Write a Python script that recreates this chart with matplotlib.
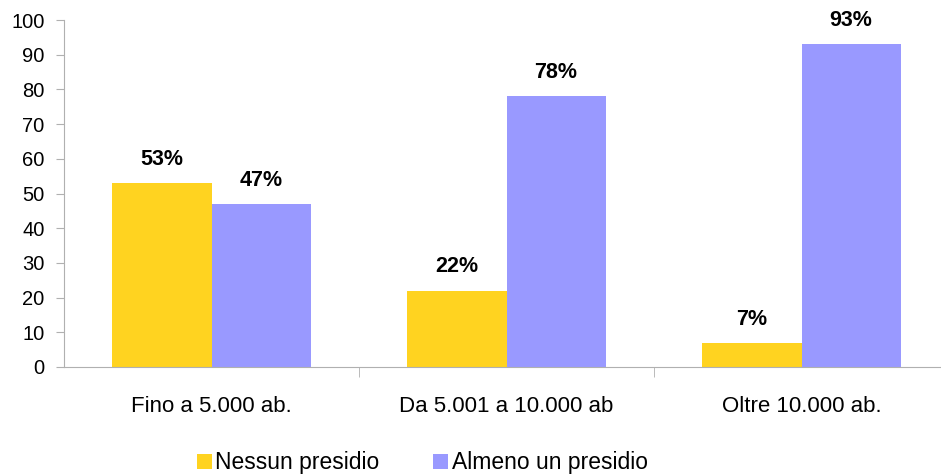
import matplotlib.pyplot as plt
import numpy as np

plt.rcParams['font.family'] = ['Liberation Sans', 'DejaVu Sans']

categories = ['Fino a 5.000 ab.', 'Da 5.001 a 10.000 ab', 'Oltre 10.000 ab.']
nessun = [53, 22, 7]
almeno = [47, 78, 93]
series_names = ['Nessun presidio', 'Almeno un presidio']
colors = ['#FFD320', '#9999FF']

fig = plt.figure(figsize=(9.41, 4.75), dpi=100)
ax = fig.add_axes([64 / 941, (475 - 367) / 475, (949 - 64) / 941, (367 - 20) / 475])

x = np.arange(len(categories))
w = 0.336
b1 = ax.bar(x - w / 2, nessun, w, color=colors[0], label=series_names[0])
b2 = ax.bar(x + w / 2, almeno, w, color=colors[1], label=series_names[1])

for bars, vals in ((b1, nessun), (b2, almeno)):
    for r, v in zip(bars, vals):
        ax.text(r.get_x() + r.get_width() / 2, v + 3.8, f'{v}%', ha='center', va='bottom',
                fontsize=15.5, fontweight='bold')

ax.set_xlim(-0.5, 2.5)
ax.set_ylim(0, 100)
ax.set_yticks(range(0, 101, 10))
ax.set_xticks(x)
ax.set_xticklabels(categories)
ax.set_xticks([0.5, 1.5, 2.5], minor=True)
ax.tick_params(axis='x', which='major', length=0, pad=21, labelsize=16)
ax.tick_params(axis='x', which='minor', length=7, color='#b0b0b0', direction='out')
ax.tick_params(axis='y', length=6, color='#b0b0b0', labelsize=14.5, pad=8)
for s in ['top', 'right']:
    ax.spines[s].set_visible(False)
for s in ['left', 'bottom']:
    ax.spines[s].set_color('#b0b0b0')

ax.legend(loc='center left', bbox_to_anchor=(197 / 941, (475 - 463) / 475), bbox_transform=fig.transFigure,
          ncol=2, frameon=False, fontsize=16.5, handlelength=0.65, handleheight=0.65,
          handletextpad=0.15, columnspacing=2.35, borderaxespad=0, borderpad=0)

fig.savefig('out.png', dpi=100)
